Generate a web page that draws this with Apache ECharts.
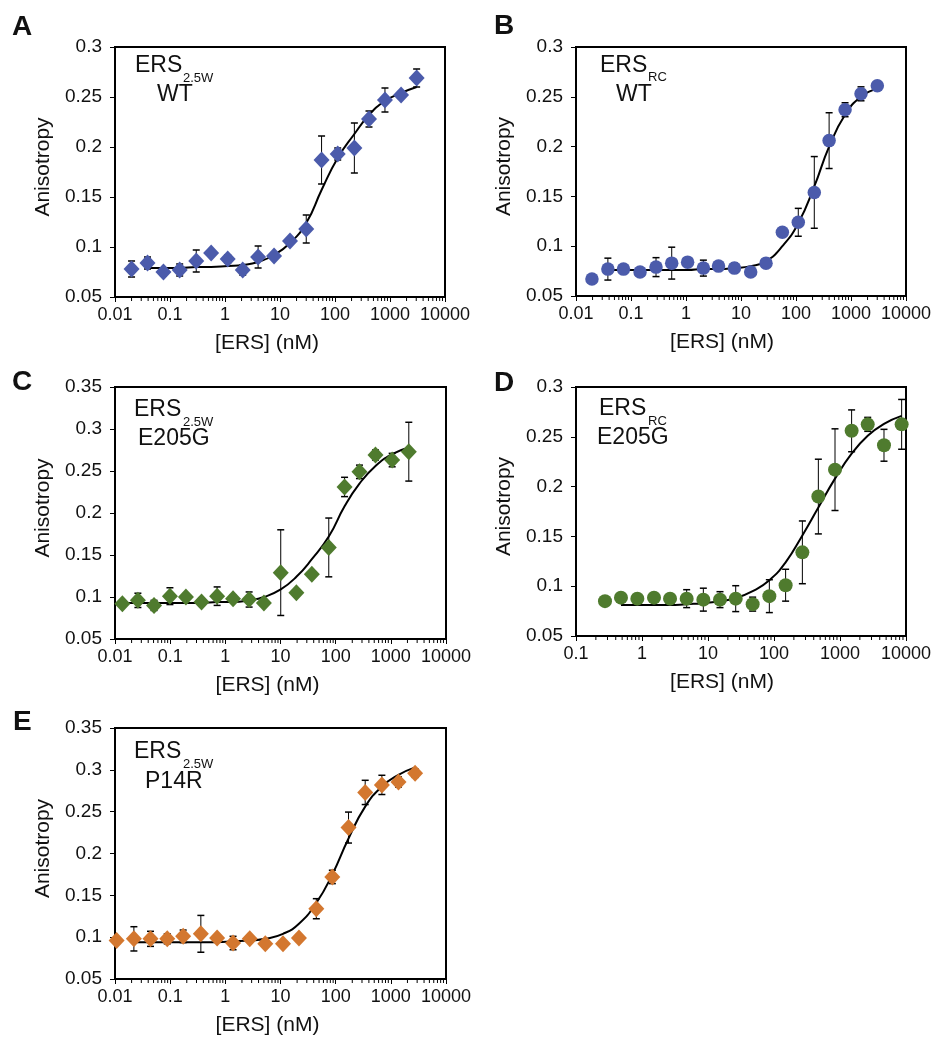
<!DOCTYPE html>
<html>
<head>
<meta charset="utf-8">
<script src="https://cdn.jsdelivr.net/npm/echarts@6/dist/echarts.min.js"></script>
<style>
  html, body { margin: 0; padding: 0; background: #fff; }
  #main { width: 935px; height: 1038px; }
</style>
</head>
<body>
<div id="main"></div>
<script>
// ---- data ----
// A: ERS2.5W WT
var concA  = [0.020, 0.039, 0.076, 0.15, 0.30, 0.56, 1.12, 2.1, 4.0, 7.8, 15.2, 30, 57, 112, 225, 415, 810, 1590, 3050];
var anisoA = [0.078, 0.084, 0.075, 0.077, 0.086, 0.094, 0.088, 0.077, 0.090, 0.091, 0.106, 0.118, 0.187, 0.193, 0.199, 0.228, 0.247, 0.252, 0.269];
var errA   = [0.008, 0.006, 0.004, 0.006, 0.011, 0, 0.004, 0.005, 0.011, 0, 0, 0.014, 0.024, 0.006, 0.025, 0.008, 0.012, 0, 0.009];
var fitXA  = [0.039, 0.076, 0.15, 0.30, 0.56, 1.12, 2.1, 4.0, 7.8, 15.2, 30, 57, 112, 225, 415, 810, 1590, 3050];
var fitYA  = [0.079, 0.079, 0.079, 0.080, 0.080, 0.081, 0.082, 0.085, 0.092, 0.104, 0.124, 0.157, 0.189, 0.213, 0.232, 0.246, 0.254, 0.260];

// B: ERSRC WT
var concB  = [0.0195, 0.038, 0.073, 0.146, 0.285, 0.55, 1.07, 2.07, 3.9, 7.6, 15, 28.5, 56.5, 110, 215, 400, 780, 1520, 3010];
var anisoB = [0.067, 0.077, 0.077, 0.074, 0.079, 0.083, 0.084, 0.078, 0.080, 0.078, 0.074, 0.083, 0.114, 0.124, 0.154, 0.206, 0.237, 0.253, 0.261];
var errB   = [0, 0.011, 0.003, 0.003, 0.0095, 0.016, 0, 0.008, 0, 0.005, 0, 0, 0, 0.014, 0.036, 0.028, 0.007, 0.007, 0.004];
var fitXB  = [0.038, 0.073, 0.146, 0.285, 0.55, 1.07, 2.07, 3.9, 7.6, 15, 28.5, 56.5, 110, 215, 400, 780, 1520, 3010];
var fitYB  = [0.076, 0.076, 0.076, 0.076, 0.076, 0.076, 0.077, 0.077, 0.078, 0.080, 0.085, 0.100, 0.123, 0.160, 0.200, 0.232, 0.250, 0.258];

// C: ERS2.5W E205G
var concC  = [0.0136, 0.026, 0.051, 0.099, 0.193, 0.37, 0.71, 1.38, 2.7, 5.0, 10.1, 19.4, 37, 75, 145, 270, 527, 1057, 2117];
var anisoC = [0.092, 0.096, 0.090, 0.101, 0.100, 0.094, 0.101, 0.098, 0.097, 0.093, 0.129, 0.105, 0.127, 0.159, 0.231, 0.249, 0.269, 0.263, 0.273];
var errC   = [0.003, 0.0085, 0.006, 0.010, 0.004, 0, 0.011, 0.004, 0.009, 0, 0.051, 0, 0, 0.035, 0.0115, 0.008, 0.006, 0.008, 0.035];
var fitXC  = [0.0136, 0.026, 0.051, 0.099, 0.193, 0.37, 0.71, 1.38, 2.7, 5.0, 10.1, 19.4, 37, 75, 145, 270, 527, 1057, 2117];
var fitYC  = [0.093, 0.093, 0.093, 0.093, 0.093, 0.093, 0.094, 0.094, 0.096, 0.100, 0.109, 0.124, 0.145, 0.172, 0.208, 0.235, 0.256, 0.270, 0.278];

// D: ERSRC E205G
var concD  = [0.275, 0.48, 0.85, 1.52, 2.66, 4.75, 8.5, 15.2, 26.3, 47.5, 85, 150, 269, 470, 840, 1500, 2630, 4640, 8590];
var anisoD = [0.085, 0.0885, 0.0875, 0.0885, 0.0875, 0.0875, 0.0865, 0.0865, 0.0875, 0.082, 0.090, 0.101, 0.134, 0.190, 0.217, 0.256, 0.2625, 0.2415, 0.2625];
var errD   = [0, 0, 0, 0, 0, 0.009, 0.0115, 0.008, 0.013, 0.007, 0.0165, 0.016, 0.0315, 0.0375, 0.041, 0.021, 0.007, 0.016, 0.025];
var fitXD  = [0.48, 0.85, 1.52, 2.66, 4.75, 8.5, 15.2, 26.3, 47.5, 85, 150, 269, 470, 840, 1500, 2630, 4640, 8590];
var fitYD  = [0.081, 0.081, 0.081, 0.081, 0.082, 0.083, 0.085, 0.088, 0.095, 0.106, 0.124, 0.151, 0.179, 0.208, 0.233, 0.251, 0.263, 0.271];

// E: ERS2.5W P14R
var concE  = [0.0107, 0.022, 0.044, 0.0885, 0.172, 0.36, 0.71, 1.38, 2.77, 5.3, 11.1, 21.6, 44.6, 87, 171, 343, 688, 1376, 2754];
var anisoE = [0.096, 0.098, 0.098, 0.098, 0.101, 0.104, 0.099, 0.093, 0.098, 0.092, 0.092, 0.099, 0.134, 0.172, 0.231, 0.273, 0.282, 0.2855, 0.296];
var errE   = [0.004, 0.0145, 0.009, 0.006, 0.0075, 0.022, 0, 0.008, 0, 0, 0, 0, 0.012, 0.008, 0.0185, 0.0145, 0.0115, 0.006, 0.005];
var fitXE  = [0.022, 0.044, 0.0885, 0.172, 0.36, 0.71, 1.38, 2.77, 5.3, 11.1, 21.6, 44.6, 87, 171, 343, 688, 1376, 2754];
var fitYE  = [0.094, 0.094, 0.094, 0.094, 0.094, 0.094, 0.095, 0.096, 0.098, 0.104, 0.116, 0.141, 0.175, 0.218, 0.256, 0.280, 0.294, 0.303];

// axis ticks
var yTicks1 = [0.05, 0.1, 0.15, 0.2, 0.25, 0.3];
var yTicks2 = [0.05, 0.1, 0.15, 0.2, 0.25, 0.3, 0.35];
var minorMant = [2, 3, 4, 5, 6, 7, 8, 9];

var FONT = '"Liberation Sans", Arial, Helvetica, sans-serif';
var BLUE = '#4b5bab', GREEN = '#4f7b2e', ORANGE = '#d3772f';

var dom = document.getElementById('main');
var myChart = echarts.init(dom, null, { renderer: 'canvas' });

// panel layout
var DIAMOND = [16, 17];
var panels = [
  { grid: { left: 115, top: 47, width: 330, height: 250 }, xmin: 0.01, xmax: 10000, yTicks: yTicks1,
    x: concA, y: anisoA, e: errA, fx: fitXA, fy: fitYA, color: BLUE, symbol: 'diamond', size: DIAMOND },
  { grid: { left: 576, top: 47, width: 330, height: 249 }, xmin: 0.01, xmax: 10000, yTicks: yTicks1,
    x: concB, y: anisoB, e: errB, fx: fitXB, fy: fitYB, color: BLUE, symbol: 'circle', size: 13.5 },
  { grid: { left: 115, top: 387, width: 331, height: 252 }, xmin: 0.01, xmax: 10000, yTicks: yTicks2,
    x: concC, y: anisoC, e: errC, fx: fitXC, fy: fitYC, color: GREEN, symbol: 'diamond', size: DIAMOND },
  { grid: { left: 576, top: 387, width: 330, height: 249 }, xmin: 0.1, xmax: 10000, yTicks: yTicks1,
    x: concD, y: anisoD, e: errD, fx: fitXD, fy: fitYD, color: GREEN, symbol: 'circle', size: 14 },
  { grid: { left: 115, top: 728, width: 331, height: 251 }, xmin: 0.01, xmax: 10000, yTicks: yTicks2,
    x: concE, y: anisoE, e: errE, fx: fitXE, fy: fitYE, color: ORANGE, symbol: 'diamond', size: DIAMOND }
];

function fmtNum(v) { return String(Number(Number(v).toPrecision(6))); }

function errBarRender(params, api) {
  var x = api.value(0), y = api.value(1), e = api.value(2);
  var t = api.coord([x, y + e]), b = api.coord([x, y - e]);
  var hw = 3.5, st = { stroke: '#000', lineWidth: 1 }, cap = { stroke: '#000', lineWidth: 1.5 };
  return { type: 'group', children: [
    { type: 'line', shape: { x1: t[0], y1: t[1], x2: b[0], y2: b[1] }, style: st },
    { type: 'line', shape: { x1: t[0] - hw, y1: t[1], x2: t[0] + hw, y2: t[1] }, style: cap },
    { type: 'line', shape: { x1: b[0] - hw, y1: b[1], x2: b[0] + hw, y2: b[1] }, style: cap }
  ] };
}

function minorTickRender(params, api) {
  var p = api.coord([api.value(0), api.value(1)]);
  return { type: 'line', shape: { x1: p[0], y1: p[1], x2: p[0], y2: p[1] + 4 },
           style: { stroke: '#000', lineWidth: 1 } };
}

var grids = [], xAxes = [], yAxes = [], series = [];
panels.forEach(function (p, i) {
  var g = p.grid;
  grids.push({ left: g.left, top: g.top, width: g.width, height: g.height, show: true,
               borderColor: '#000', borderWidth: 2, backgroundColor: 'transparent', containLabel: false });
  var ymin = p.yTicks[0], ymax = p.yTicks[p.yTicks.length - 1];
  var decades = Math.round(Math.log10(p.xmax / p.xmin));
  xAxes.push({
    type: 'log', logBase: 10, gridIndex: i, min: p.xmin, max: p.xmax, splitNumber: decades,
    name: '[ERS] (nM)', nameLocation: 'middle', nameGap: 36,
    nameTextStyle: { fontFamily: FONT, fontSize: 21, color: '#111', padding: [0, i % 2 ? 38 : 26, 0, 0] },
    axisLine: { show: true, lineStyle: { color: '#000', width: 2 } },
    axisTick: { show: true, inside: false, length: 5, lineStyle: { color: '#000', width: 1 } },
    axisLabel: { fontFamily: FONT, fontSize: 18, color: '#111', margin: 9, formatter: fmtNum,
                 showMinLabel: true, showMaxLabel: true },
    splitLine: { show: false }, minorTick: { show: false }
  });
  yAxes.push({
    type: 'value', gridIndex: i, min: ymin, max: ymax, interval: 0.05,
    name: 'Anisotropy', nameLocation: 'middle', nameGap: 61,
    nameTextStyle: { fontFamily: FONT, fontSize: 21, color: '#111', padding: [0, 0, 0, 10] },
    axisLine: { show: true, lineStyle: { color: '#000', width: 2 } },
    axisTick: { show: true, inside: false, length: 5, lineStyle: { color: '#000', width: 1 } },
    axisLabel: { fontFamily: FONT, fontSize: 19, color: '#111', margin: 13, formatter: fmtNum },
    splitLine: { show: false }
  });

  // minor ticks along the log axis (2..9 of each decade)
  var minor = [];
  for (var d = 0; d < decades; d++) {
    minorMant.forEach(function (m) { minor.push([p.xmin * Math.pow(10, d) * m, ymin]); });
  }
  series.push({ type: 'custom', xAxisIndex: i, yAxisIndex: i, renderItem: minorTickRender,
                data: minor, encode: { x: 0, y: 1 }, clip: false, silent: true, z: 1 });

  series.push({ type: 'custom', xAxisIndex: i, yAxisIndex: i, renderItem: errBarRender,
                data: p.x.map(function (v, k) { return [v, p.y[k], p.e[k]]; }),
                encode: { x: 0, y: 1 }, clip: false, silent: true, z: 2 });

  series.push({ type: 'line', xAxisIndex: i, yAxisIndex: i, smooth: 0.5,
                showSymbol: false, symbol: 'none', lineStyle: { color: '#000', width: 2 },
                data: p.fx.map(function (v, k) { return [v, p.fy[k]]; }), z: 3, silent: true });

  series.push({ type: 'scatter', xAxisIndex: i, yAxisIndex: i, symbol: p.symbol, symbolSize: p.size,
                itemStyle: { color: p.color, opacity: 1 },
                data: p.x.map(function (v, k) { return [v, p.y[k]]; }), z: 4, silent: true });
});

// panel letters and in-plot labels
function txt(x, y, s, size, bold) {
  return { type: 'text', x: x, y: y, silent: true, z: 10,
           style: { text: s, fontFamily: FONT, fontSize: size, fontWeight: bold ? 'bold' : 'normal',
                    fill: '#111', align: 'left', verticalAlign: 'middle' } };
}
var graphics = [
  txt(12, 27, 'A', 28, true), txt(494, 26, 'B', 28, true), txt(12, 382, 'C', 28, true),
  txt(494, 383, 'D', 28, true), txt(13, 722, 'E', 28, true),
  txt(135, 66, 'ERS', 23), txt(183, 78, '2.5W', 13), txt(157, 95, 'WT', 23),
  txt(600, 66, 'ERS', 23), txt(648, 77, 'RC', 13), txt(616, 95, 'WT', 23),
  txt(134, 410, 'ERS', 23), txt(183, 422, '2.5W', 13), txt(138, 439, 'E205G', 23),
  txt(599, 409, 'ERS', 23), txt(648, 421, 'RC', 13), txt(597, 438, 'E205G', 23),
  txt(134, 752, 'ERS', 23), txt(183, 764, '2.5W', 13), txt(145, 782, 'P14R', 23)
];

var option = {
  backgroundColor: '#fff',
  animation: false,
  textStyle: { fontFamily: FONT },
  grid: grids,
  xAxis: xAxes,
  yAxis: yAxes,
  series: series,
  graphic: graphics
};
myChart.setOption(option);
</script>
</body>
</html>
